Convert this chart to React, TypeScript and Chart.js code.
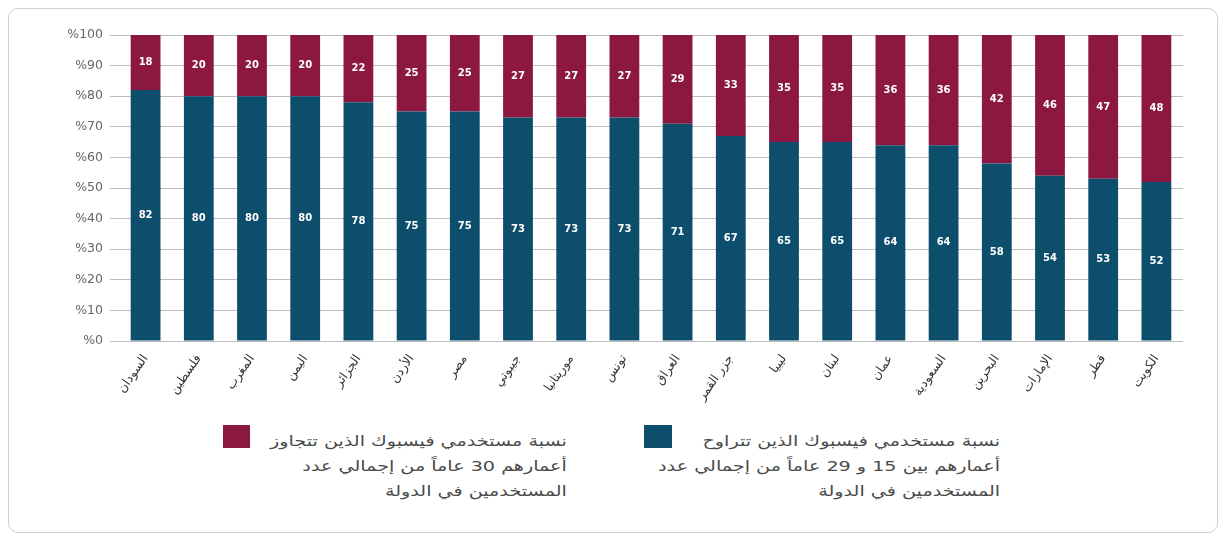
import React, { useEffect, useRef } from "react";
import { Chart, registerables } from "chart.js";

Chart.register(...registerables);

const categories = [
  "السودان", "فلسطين", "المغرب", "اليمن", "الجزائر", "الأردن", "مصر", "جيبوتي",
  "موريتانيا", "تونس", "العراق", "جزر القمر", "ليبيا", "لبنان", "عمان",
  "السعودية", "البحرين", "الإمارات", "قطر", "الكويت",
];
const youngShare = [82, 80, 80, 80, 78, 75, 75, 73, 73, 73, 71, 67, 65, 65, 64, 64, 58, 54, 53, 52];
const olderShare = [18, 20, 20, 20, 22, 25, 25, 27, 27, 27, 29, 33, 35, 35, 36, 36, 42, 46, 47, 48];
const yTicks = [0, 10, 20, 30, 40, 50, 60, 70, 80, 90, 100];

const TEAL = "#0d4e6c";
const MAROON = "#8c1740";

const youngLegend = [
  "نسبة مستخدمي فيسبوك الذين تتراوح",
  "أعمارهم بين 15 و 29 عاماً من إجمالي عدد",
  "المستخدمين في الدولة",
];
const olderLegend = [
  "نسبة مستخدمي فيسبوك الذين تتجاوز",
  "أعمارهم 30 عاماً من إجمالي عدد",
  "المستخدمين في الدولة",
];

const valueLabels = {
  id: "valueLabels",
  afterDatasetsDraw(chart: any) {
    const ctx = chart.ctx;
    ctx.save();
    ctx.fillStyle = "#ffffff";
    ctx.font = "bold 10px 'DejaVu Sans', sans-serif";
    ctx.textAlign = "center";
    ctx.textBaseline = "middle";
    chart.data.datasets.forEach((ds: any, di: number) => {
      const meta = chart.getDatasetMeta(di);
      meta.data.forEach((bar: any, i: number) => {
        const y = (bar.y + bar.base) / 2;
        ctx.fillText(String(ds.data[i]), bar.x, y);
      });
    });
    ctx.restore();
  },
};

export default function App() {
  const ref = useRef<HTMLCanvasElement>(null);
  useEffect(() => {
    const chart = new Chart(ref.current!, {
      type: "bar",
      data: {
        labels: categories,
        datasets: [
          { label: "15-29", data: youngShare, backgroundColor: TEAL, barPercentage: 0.56, categoryPercentage: 1 },
          { label: "30+", data: olderShare, backgroundColor: MAROON, barPercentage: 0.56, categoryPercentage: 1 },
        ],
      },
      options: {
        animation: false,
        responsive: false,
        maintainAspectRatio: false,
        layout: { padding: { top: 26, right: 34, bottom: 0, left: 0 } },
        plugins: { legend: { display: false }, tooltip: { enabled: false } },
        scales: {
          x: {
            stacked: true,
            grid: { display: false },
            border: { display: false },
            ticks: {
              minRotation: 55,
              maxRotation: 55,
              autoSkip: false,
              color: "#333",
              font: { size: 12.5, family: "'DejaVu Sans', sans-serif" },
              padding: 3,
            },
            afterFit: (s: any) => { s.height = 78; },
          },
          y: {
            stacked: true,
            min: 0,
            max: 100,
            afterBuildTicks: (s: any) => { s.ticks = yTicks.map((v) => ({ value: v })); },
            grid: { color: "#bdbdbd", drawTicks: true, tickLength: 9, lineWidth: 1 },
            border: { display: false },
            ticks: {
              color: "#666",
              padding: 7,
              font: { size: 12.5, family: "'DejaVu Sans', sans-serif" },
              callback: (v: any) => "%" + v,
            },
            afterFit: (s: any) => { s.width = 110; },
          },
        },
      },
      plugins: [valueLabels],
    });
    return () => chart.destroy();
  }, []);

  const legendText: React.CSSProperties = {
    position: "absolute",
    direction: "rtl",
    textAlign: "right",
    fontFamily: "'DejaVu Sans', sans-serif",
    fontSize: 14.5,
    lineHeight: "25px",
    color: "#4a4a4a",
    whiteSpace: "nowrap",
    transform: "scaleX(1.32)",
    transformOrigin: "right center",
  };

  return (
    <div
      style={{
        position: "relative",
        width: 1208,
        height: 523,
        border: "1px solid #cfcfcf",
        borderRadius: 10,
        background: "#fff",
        overflow: "hidden",
      }}
    >
      <canvas ref={ref} width={1208} height={410} style={{ position: "absolute", left: 0, top: 0, width: 1208, height: 410 }} />
      <div style={{ position: "absolute", left: 214, top: 416, width: 27, height: 23, background: MAROON }} />
      <div style={{ ...legendText, right: 1208 - 558, top: 420 }}>
        {olderLegend.map((l, i) => <div key={i}>{l}</div>)}
      </div>
      <div style={{ position: "absolute", left: 635, top: 416, width: 28, height: 23, background: TEAL }} />
      <div style={{ ...legendText, right: 1208 - 991, top: 420 }}>
        {youngLegend.map((l, i) => <div key={i}>{l}</div>)}
      </div>
    </div>
  );
}
